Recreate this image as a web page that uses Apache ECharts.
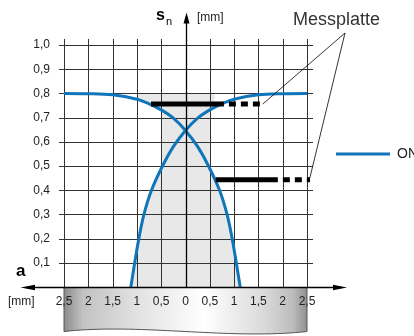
<!DOCTYPE html>
<html>
<head>
<meta charset="utf-8">
<script src="https://cdn.jsdelivr.net/npm/echarts@6/dist/echarts.min.js"></script>
<style>html,body{margin:0;padding:0;background:#fff;}#c{width:414px;height:336px;}</style>
</head>
<body>
<div id="c"></div>
<script>
// ---- data ----
const xTicks = [-2.5, -2, -1.5, -1, -0.5, 0, 0.5, 1, 1.5, 2, 2.5];
const xTickLabels = ['2,5', '2', '1,5', '1', '0,5', '0', '0,5', '1', '1,5', '2', '2,5'];
const yTicks = [0.1, 0.2, 0.3, 0.4, 0.5, 0.6, 0.7, 0.8, 0.9, 1.0];
const yTickLabels = ['0,1', '0,2', '0,3', '0,4', '0,5', '0,6', '0,7', '0,8', '0,9', '1,0'];

const seriesName = 'ON';
const curveAX = [-2.5, -2.0, -1.5, -1.0, -0.75, -0.5, -0.25, 0, 0.25, 0.46, 0.7, 0.855, 0.96, 1.045, 1.125];
const curveAY = [0.800, 0.799, 0.794, 0.776, 0.757, 0.732, 0.698, 0.647, 0.58, 0.505, 0.40, 0.30, 0.20, 0.10, 0.0];
const curveBX = [-1.125, -1.045, -0.96, -0.855, -0.7, -0.46, -0.25, 0, 0.25, 0.5, 0.75, 1.0, 1.5, 2.0, 2.5];
const curveBY = [0.0, 0.10, 0.20, 0.30, 0.40, 0.505, 0.58, 0.647, 0.698, 0.732, 0.757, 0.776, 0.794, 0.799, 0.800];

// measuring plates (Messplatte): height, solid start, solid end, dashed end
const plateY = [0.756, 0.443];
const plateSolidStart = [-0.71, 0.62];
const plateSolidEnd = [0.79, 1.90];
const plateDashEnd = [1.59, 2.58];

// shaded zone
const shadeTopLevel = 0.8;
const shadeBandX = [-1.0, 0.6];
const shadeColumnX = [-0.5, 0.5];

// ---- chart ----
const FONT = 'Liberation Sans, Arial, Helvetica, sans-serif';
const BLUE = '#0f76bb';
const GRAY = '#e8e8e8';

function labelFor(ticks, labels, v) {
  const i = ticks.findIndex(t => Math.abs(t - v) < 1e-6);
  return i >= 0 ? labels[i] : '';
}
function interp(xs, ys, x) {
  for (let i = 0; i < xs.length - 1; i++) {
    if (x >= xs[i] && x <= xs[i + 1]) {
      const t = (x - xs[i]) / (xs[i + 1] - xs[i]);
      return ys[i] + t * (ys[i + 1] - ys[i]);
    }
  }
  return ys[ys.length - 1];
}
const zip = (xs, ys) => xs.map((x, i) => [x, ys[i]]);

const lowerPoly = zip(curveBX, curveBY).filter(p => p[0] <= 0)
  .concat(zip(curveAX, curveAY).filter(p => p[0] > 0));
const topPoly = [[shadeBandX[0], shadeTopLevel], [shadeBandX[1], shadeTopLevel],
  [shadeBandX[1], interp(curveBX, curveBY, shadeBandX[1])]]
  .concat(zip(curveBX, curveBY).filter(p => p[0] > 0 && p[0] < shadeBandX[1]).reverse())
  .concat(zip(curveAX, curveAY).filter(p => p[0] >= shadeBandX[0] && p[0] <= 0).reverse());

const chart = echarts.init(document.getElementById('c'), null, {renderer: 'canvas'});

const plateSeries = [];
plateY.forEach((y, i) => {
  plateSeries.push({
    type: 'line', z: 4, symbol: 'none', silent: true,
    data: [[plateSolidStart[i], y], [plateSolidEnd[i], y]],
    lineStyle: {color: '#000', width: 5}
  });
  plateSeries.push({
    type: 'line', z: 4, symbol: 'none', silent: true,
    data: [[plateSolidEnd[i], y], [plateDashEnd[i], y]],
    lineStyle: {color: '#000', width: 5, type: [7, 5], dashOffset: 7}
  });
});

const option = {
  animation: false,
  grid: {left: 64, right: 107, top: 45, bottom: 49, outerBoundsMode: 'none'},
  xAxis: {
    type: 'value', min: -2.5, max: 2.5, interval: 0.5, z: 10,
    axisLine: {show: false}, axisTick: {show: false}, splitLine: {show: false},
    axisLabel: {margin: 9, fontSize: 12, color: '#222', fontFamily: FONT,
      formatter: v => labelFor(xTicks, xTickLabels, v)}
  },
  yAxis: {
    type: 'value', min: 0, max: 1, interval: 0.1,
    axisLine: {show: false}, axisTick: {show: false}, splitLine: {show: false},
    axisLabel: {margin: 14, fontSize: 12, color: '#222', fontFamily: FONT,
      formatter: v => labelFor(yTicks, yTickLabels, v)}
  },
  legend: {
    data: [seriesName], left: 336, top: 147, padding: 0, icon: 'rect',
    itemWidth: 54, itemHeight: 3, selectedMode: false,
    textStyle: {fontSize: 14, color: '#222', fontFamily: FONT, padding: [0, 0, 0, 2], overflow: 'none'}
  },
  series: [
    {
      type: 'custom', z: 1, silent: true, clip: false, data: [0],
      renderItem: (params, api) => {
        const c0 = api.coord([shadeColumnX[0], shadeTopLevel]);
        const c1 = api.coord([shadeColumnX[1], 0]);
        return {type: 'group', children: [
          {type: 'polygon', shape: {points: lowerPoly.map(p => api.coord(p))}, style: {fill: GRAY}},
          {type: 'polygon', shape: {points: topPoly.map(p => api.coord(p))}, style: {fill: GRAY}},
          {type: 'rect', shape: {x: c0[0], y: c0[1], width: c1[0] - c0[0], height: c1[1] - c0[1]}, style: {fill: GRAY}}
        ]};
      }
    },
    {
      type: 'custom', z: 2, silent: true, clip: false, data: [0],
      renderItem: (params, api) => {
        const children = [];
        yTicks.forEach(v => {
          const a = api.coord([xTicks[0], v]);
          const b = api.coord([xTicks[xTicks.length - 1], v]);
          const y = Math.round(a[1]) + 0.5;
          children.push({type: 'line', shape: {x1: a[0] - 5, y1: y, x2: b[0] + 6, y2: y},
            style: {stroke: '#333', lineWidth: 1}});
        });
        xTicks.forEach(v => {
          const a = api.coord([v, 0]);
          const b = api.coord([v, yTicks[yTicks.length - 1]]);
          const x = Math.round(a[0]) + 0.5;
          children.push({type: 'line', shape: {x1: x, y1: a[1], x2: x, y2: b[1] - 6},
            style: {stroke: '#333', lineWidth: 1}});
        });
        return {type: 'group', children};
      }
    },
    {
      name: seriesName, type: 'line', z: 3, symbol: 'none', smooth: 0.35,
      data: zip(curveAX, curveAY), lineStyle: {color: BLUE, width: 3}, itemStyle: {color: BLUE}
    },
    {
      name: seriesName, type: 'line', z: 3, symbol: 'none', smooth: 0.35,
      data: zip(curveBX, curveBY), lineStyle: {color: BLUE, width: 3}, itemStyle: {color: BLUE}
    }
  ].concat(plateSeries)
};
chart.setOption(option);

// ---- decorations positioned from the axes' scales ----
const px = p => chart.convertToPixel({gridIndex: 0}, p);
const o = px([0, 0]);
const L = px([xTicks[0], 0]);
const R = px([xTicks[xTicks.length - 1], 0]);
const x0 = Math.round(o[0]) + 0.5;
const y0 = Math.round(o[1]) + 0.5;
const p1 = px([plateDashEnd[0], plateY[0]]);
const p2 = px([plateDashEnd[1], plateY[1]]);
const noteAnchor = [345, 33];

// ruler outline with a wavy lower edge (cubic bezier sampled)
function bez(p0, c1, c2, p3, t) {
  const u = 1 - t;
  return [u*u*u*p0[0] + 3*u*u*t*c1[0] + 3*u*t*t*c2[0] + t*t*t*p3[0],
          u*u*u*p0[1] + 3*u*u*t*c1[1] + 3*u*t*t*c2[1] + t*t*t*p3[1]];
}
const rulerPts = [[L[0], y0], [R[0], y0]];
for (let i = 0; i <= 40; i++) {
  rulerPts.push(bez([R[0], 331.5], [230, 340], [140, 323], [L[0], 331.5], i / 40));
}

const graphic = [
  {
    type: 'polygon', z: 0, silent: true,
    shape: {points: rulerPts},
    style: {
      fill: {type: 'linear', x: 0, y: 0, x2: 1, y2: 0, colorStops: [
        {offset: 0, color: '#8a8a8a'}, {offset: 0.08, color: '#c2c2c2'},
        {offset: 0.3, color: '#e2e2e2'}, {offset: 0.58, color: '#ffffff'},
        {offset: 0.82, color: '#dadada'}, {offset: 0.94, color: '#bdbdbd'},
        {offset: 1, color: '#8e8e8e'}]},
      stroke: '#555', lineWidth: 1
    }
  },
  {type: 'line', z: 20, silent: true, shape: {x1: 26, y1: y0, x2: 341, y2: y0}, style: {stroke: '#000', lineWidth: 1.3}},
  {type: 'polygon', z: 20, silent: true, shape: {points: [[20.5, y0], [35, y0 - 2.8], [35, y0 + 2.8]]}, style: {fill: '#000'}},
  {type: 'polygon', z: 20, silent: true, shape: {points: [[347, y0], [333, y0 - 2.8], [333, y0 + 2.8]]}, style: {fill: '#000'}},
  {type: 'line', z: 20, silent: true, shape: {x1: x0, y1: y0, x2: x0, y2: 18}, style: {stroke: '#000', lineWidth: 1.3}},
  {type: 'polygon', z: 20, silent: true, shape: {points: [[x0, 12.5], [x0 - 3, 23.5], [x0 + 3, 23.5]]}, style: {fill: '#000'}},
  {type: 'line', z: 20, silent: true, shape: {x1: noteAnchor[0], y1: noteAnchor[1], x2: p1[0], y2: p1[1]}, style: {stroke: '#000', lineWidth: 0.8}},
  {type: 'line', z: 20, silent: true, shape: {x1: noteAnchor[0], y1: noteAnchor[1], x2: p2[0] - 1, y2: p2[1] - 2}, style: {stroke: '#000', lineWidth: 0.8}},
  {type: 'text', z: 20, silent: true, left: 293, top: 11,
    style: {text: 'Messplatte', font: `18px ${FONT}`, fill: '#333'}},
  {type: 'text', z: 20, silent: true, left: 156, top: 8,
    style: {text: '{s|s}{n|n}', rich: {
      s: {font: `bold 16px ${FONT}`, fill: '#000', verticalAlign: 'bottom'},
      n: {font: `11px ${FONT}`, fill: '#000', verticalAlign: 'bottom', padding: [0, 0, -3, 1]}}}},
  {type: 'text', z: 20, silent: true, left: 197, top: 12,
    style: {text: '[mm]', font: `12px ${FONT}`, fill: '#222'}},
  {type: 'text', z: 20, silent: true, left: 8, top: 296,
    style: {text: '[mm]', font: `12px ${FONT}`, fill: '#222'}},
  {type: 'text', z: 20, silent: true, left: 16, top: 263,
    style: {text: 'a', font: `bold 17px ${FONT}`, fill: '#000'}}
];
chart.setOption({graphic});
</script>
</body>
</html>
